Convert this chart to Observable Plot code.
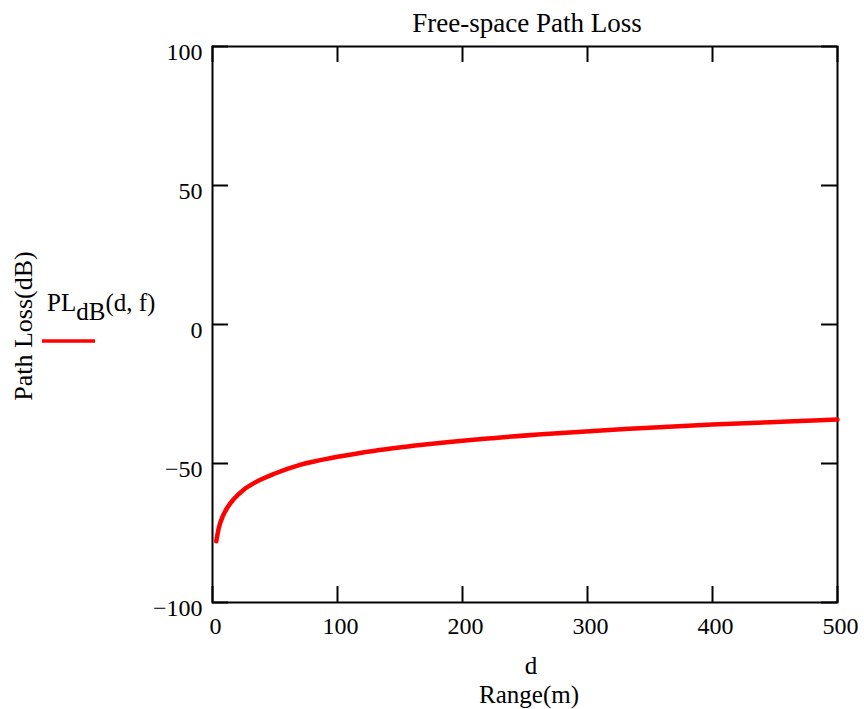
<!DOCTYPE html>
<html><head><meta charset="utf-8">
<script src="https://cdn.jsdelivr.net/npm/d3@7"></script>
<script src="https://cdn.jsdelivr.net/npm/@observablehq/plot@0.6"></script>
<style>body{margin:0;background:#fff} svg{display:block}</style>
</head><body><div id="chart"></div>
<script>
// Data
const distances  = [3, 5, 8, 12, 17, 25, 35, 50, 70, 100, 130, 170, 220, 270, 330, 400, 460, 500];
const pathLossDb = [-78, -73.3, -69.2, -65.8, -62.8, -59.4, -56.6, -53.6, -50.5, -47.6, -45.4, -43.2, -41.0, -39.3, -37.6, -36.0, -34.9, -34.2];
const xTicks = [0, 100, 200, 300, 400, 500];
const yTicks = [-100, -50, 0, 50, 100];
const titleText = "Free-space Path Loss";
const xLabelLines = ["d", "Range(m)"];
const yLabelText = "Path Loss(dB)";
const legendName = "PL", legendSub = "dB", legendArgs = "(d, f)";

const data = distances.map((d, i) => ({d, pl: pathLossDb[i]}));
const W = 864, H = 709, mL = 212, mR = 27, mT = 46, mB = 107;
const fw = W - mL - mR, fh = H - mT - mB, tick = 16;
const font = "'Liberation Serif', 'Times New Roman', serif";
const fs = 24;

const chart = Plot.plot({
  width: W, height: H,
  marginLeft: mL, marginRight: mR, marginTop: mT, marginBottom: mB,
  style: {fontFamily: font, fontSize: fs + "px", color: "#000", background: "#fff", overflow: "visible"},
  x: {domain: [0, 500]},
  y: {domain: [-100, 100]},
  marks: [
    Plot.tickY(yTicks, {y: d => d, insetRight: fw - tick, stroke: "#000", strokeWidth: 2}),
    Plot.tickY(yTicks, {y: d => d, insetLeft: fw - tick, stroke: "#000", strokeWidth: 2}),
    Plot.tickX(xTicks, {x: d => d, insetTop: fh - tick, stroke: "#000", strokeWidth: 2}),
    Plot.tickX(xTicks, {x: d => d, insetBottom: fh - tick, stroke: "#000", strokeWidth: 2}),
    Plot.frame({stroke: "#000", strokeWidth: 2}),
    Plot.line(data, {x: "d", y: "pl", stroke: "#ff0000", strokeWidth: 4.5, curve: "monotone-x"}),
    Plot.axisX(xTicks, {tickSize: 0, tickPadding: 14, dx: 3, label: null, fontSize: fs, tickFormat: d3.format("d")}),
    Plot.axisY(yTicks, {tickSize: 0, tickPadding: 10, dy: 6, label: null, fontSize: fs, tickFormat: d3.format("d")})
  ]
});
document.getElementById("chart").appendChild(chart);

const svg = d3.select(chart);
const g = svg.append("g").attr("font-family", font).attr("font-size", 25).attr("fill", "#000");
g.append("text").attr("x", 527).attr("y", 32).attr("text-anchor", "middle").attr("font-size", 27).text(titleText);
g.append("text").attr("x", 531).attr("y", 674).attr("text-anchor", "middle").text(xLabelLines[0]);
g.append("text").attr("x", 529).attr("y", 703).attr("text-anchor", "middle").text(xLabelLines[1]);
g.append("text").attr("transform", "translate(32,326) rotate(-90)").attr("text-anchor", "middle").attr("font-size", 26).text(yLabelText);
const leg = g.append("text").attr("x", 47).attr("y", 311).attr("text-anchor", "start");
leg.append("tspan").text(legendName);
leg.append("tspan").attr("dy", 9).text(legendSub);
leg.append("tspan").attr("dy", -9).text(legendArgs);
g.append("line").attr("x1", 42).attr("x2", 95).attr("y1", 341).attr("y2", 341)
  .attr("stroke", "#ff0000").attr("stroke-width", 3.5);
</script>
</body></html>
